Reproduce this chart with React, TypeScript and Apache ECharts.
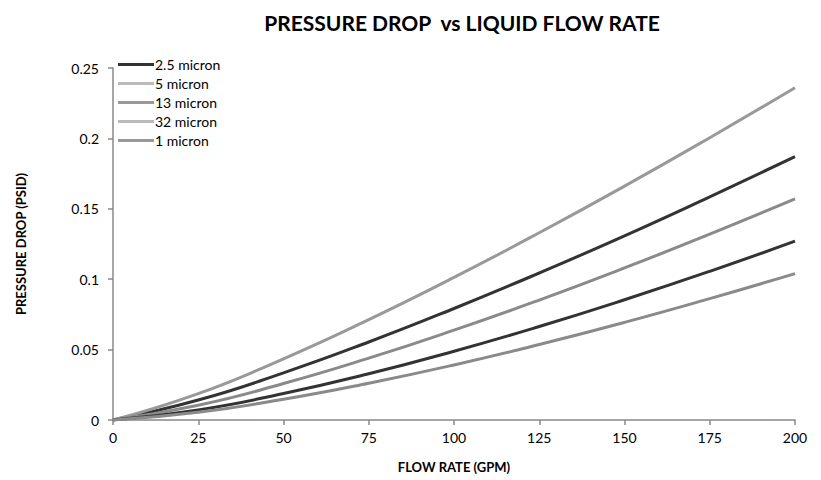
import React, { useEffect, useRef } from "react";
import * as echarts from "echarts";

const flowRates = [0, 25, 50, 75, 100, 125, 150, 175, 200];
const xTicks = ["0", "25", "50", "75", "100", "125", "150", "175", "200"];

const micron2_5 = [0, 0.0142, 0.0335, 0.0554, 0.0792, 0.1044, 0.1308, 0.1585, 0.187];
const micron5 = [0, 0.0187, 0.0435, 0.0713, 0.1013, 0.133, 0.1661, 0.2005, 0.236];
const micron13 = [0, 0.0105, 0.0259, 0.0439, 0.0638, 0.0852, 0.108, 0.132, 0.157];
const micron32 = [0, 0.0072, 0.0188, 0.0328, 0.0488, 0.0664, 0.0854, 0.1056, 0.127];
const micron1 = [0, 0.0055, 0.0147, 0.0261, 0.0391, 0.0536, 0.0693, 0.0862, 0.104];

const seriesNames = ["2.5 micron", "5 micron", "13 micron", "32 micron", "1 micron"];
const seriesValues = [micron2_5, micron5, micron13, micron32, micron1];
const lineColors = ["#333333", "#999999", "#8a8a8a", "#333333", "#8a8a8a"];
const legendColors = ["#333333", "#bbbbbb", "#999999", "#bbbbbb", "#999999"];

const FONT = "Lato, 'Open Sans', sans-serif";

export default function App() {
  const ref = useRef<HTMLDivElement>(null);
  useEffect(() => {
    if (!ref.current) return;
    const chart = echarts.init(ref.current, undefined, { renderer: "svg" });
    chart.setOption({
      animation: false,
      backgroundColor: "#ffffff",
      title: {
        text: "PRESSURE DROP  vs LIQUID FLOW RATE",
        left: 457,
        textAlign: "center",
        top: 7,
        textStyle: { fontFamily: FONT, fontSize: 21, fontWeight: "bold", color: "#000" },
      },
      legend: {
        orient: "vertical",
        left: 113,
        top: 52,
        icon: "rect",
        itemWidth: 36,
        itemHeight: 3,
        itemGap: 4,
        textStyle: { fontFamily: FONT, fontSize: 14, color: "#000", lineHeight: 15, padding: [0, 0, 0, -4] },
        data: seriesNames.map((n, i) => ({
          name: n,
          itemStyle: { color: legendColors[i] },
        })),
      },
      grid: { left: 113, right: 26, top: 68, bottom: 60 },
      xAxis: {
        type: "value",
        min: 0,
        max: 200,
        interval: 25,
        name: "FLOW RATE (GPM)",
        nameLocation: "middle",
        nameGap: 40,
        nameTextStyle: { fontFamily: FONT, fontSize: 13, fontWeight: "bold", color: "#000" },
        axisLine: { show: true, lineStyle: { color: "#888888", width: 1.5 } },
        axisTick: { show: true, length: 5, lineStyle: { color: "#888888", width: 1.5 } },
        axisLabel: {
          fontFamily: FONT,
          fontSize: 14,
          color: "#000",
          margin: 10,
          formatter: (v: number) => xTicks[flowRates.indexOf(v)] ?? String(v),
        },
        splitLine: { show: false },
      },
      yAxis: {
        type: "value",
        min: 0,
        max: 0.25,
        interval: 0.05,
        name: "PRESSURE DROP (PSID)",
        nameLocation: "middle",
        nameGap: 86,
        nameTextStyle: { fontFamily: FONT, fontSize: 13, fontWeight: "bold", color: "#000" },
        axisLine: { show: true, lineStyle: { color: "#888888", width: 1.5 } },
        axisTick: { show: true, length: 5, lineStyle: { color: "#888888", width: 1.5 } },
        axisLabel: { fontFamily: FONT, fontSize: 14, color: "#000", margin: 14 },
        splitLine: { show: false },
      },
      series: seriesNames.map((n, i) => ({
        name: n,
        type: "line",
        smooth: true,
        showSymbol: false,
        symbol: "none",
        color: lineColors[i],
        lineStyle: { color: lineColors[i], width: 3 },
        data: flowRates.map((x, j) => [x, seriesValues[i][j]]),
      })),
    });
    return () => chart.dispose();
  }, []);
  return <div ref={ref} style={{ width: 821, height: 480, position: "absolute", left: 0, top: 0 }} />;
}
